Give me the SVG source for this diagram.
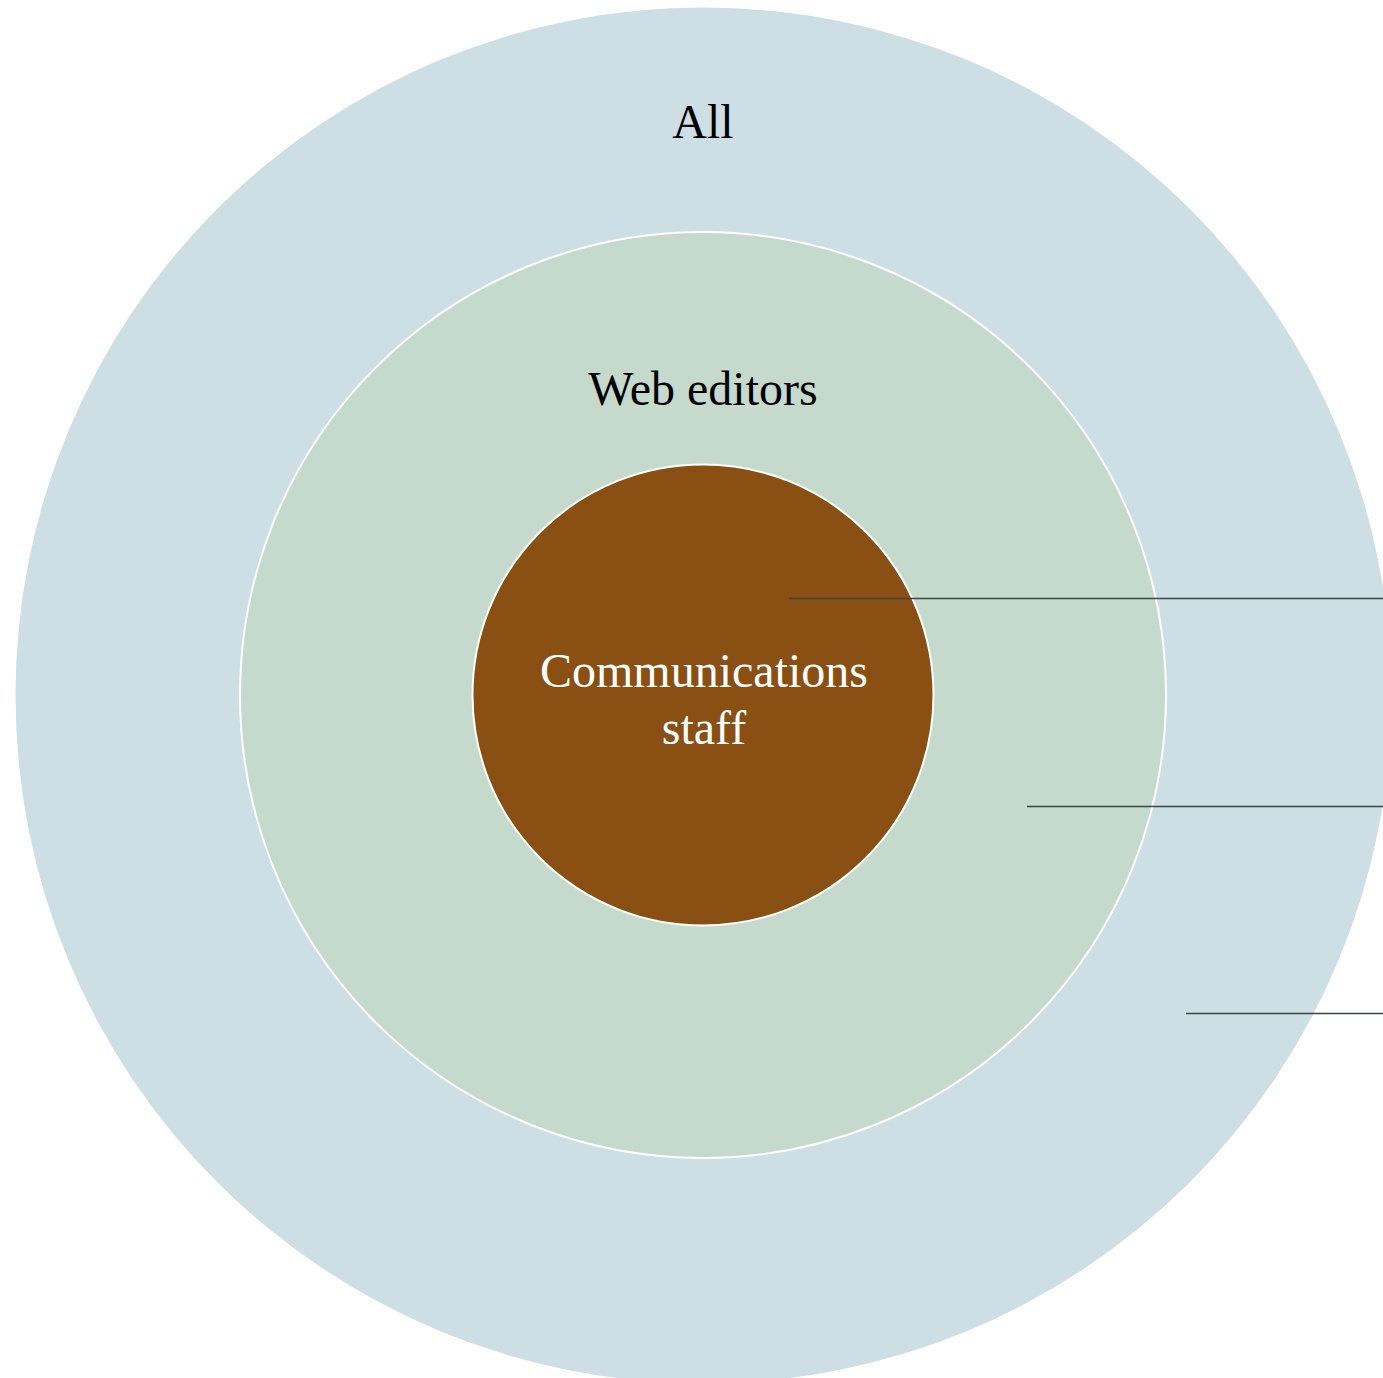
<svg xmlns="http://www.w3.org/2000/svg" width="1383" height="1378" viewBox="0 0 1383 1378">
<style>
.lbl{font-family:"Liberation Serif","Times New Roman",serif;font-size:48px;text-anchor:middle}
.ring{stroke:#ffffff;stroke-width:2}
.conn{stroke:#3f4444;stroke-width:1.3;fill:none}
</style>
<rect width="1383" height="1378" fill="#ffffff"/>
<g id="all">
<circle cx="703.5" cy="695.5" r="688" fill="#cddee4"/>
<text class="lbl" x="703" y="138" fill="#000000">All</text>
</g>
<g id="web-editors">
<circle class="ring" cx="703" cy="695" r="463" fill="#c5d9cd"/>
<text class="lbl" x="703" y="405" fill="#000000">Web editors</text>
</g>
<g id="communications-staff">
<circle class="ring" cx="703" cy="695" r="230.5" fill="#8a4f13"/>
<text class="lbl" x="704" y="687" fill="#ffffff">Communications</text>
<text class="lbl" x="704" y="744" fill="#ffffff">staff</text>
</g>
<g id="connectors">
<line class="conn" x1="789" y1="598.5" x2="1383" y2="598.5"/>
<line class="conn" x1="1027" y1="806.5" x2="1383" y2="806.5"/>
<line class="conn" x1="1186" y1="1013.5" x2="1383" y2="1013.5"/>
</g>
</svg>
